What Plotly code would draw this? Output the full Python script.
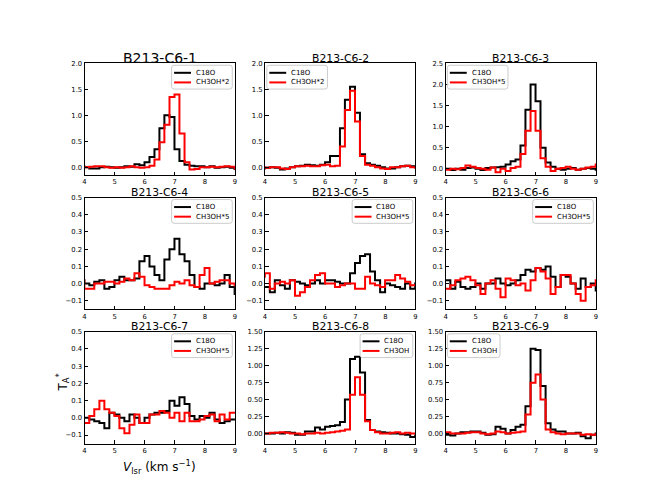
import plotly.graph_objects as go

# ---------------- data ----------------
vel = [3.91, 4.08, 4.24, 4.41, 4.58, 4.74, 4.91, 5.08, 5.24, 5.41, 5.58, 5.74,
       5.91, 6.08, 6.24, 6.41, 6.57, 6.74, 6.91, 7.07, 7.24, 7.41, 7.57, 7.74,
       7.91, 8.07, 8.24, 8.41, 8.57, 8.74, 8.91, 9.07]

titles = ["B213-C6-1", "B213-C6-2", "B213-C6-3", "B213-C6-4", "B213-C6-5",
          "B213-C6-6", "B213-C6-7", "B213-C6-8", "B213-C6-9"]
black_label = "C18O"
red_labels = ["CH3OH*2", "CH3OH*2", "CH3OH*5", "CH3OH*5", "CH3OH*5",
              "CH3OH*5", "CH3OH*5", "CH3OH", "CH3OH"]

c18o_1 = [0.02, 0.0, -0.02, -0.02, 0.0, 0.01, 0.0, -0.01, 0.0, 0.02, 0.01, 0.06,
          0.04, 0.1, 0.2, 0.35, 0.75, 1.0, 0.97, 0.35, 0.12, 0.05, 0.03, 0.02,
          0.02, 0.0, 0.02, -0.01, 0.0, 0.01, -0.01, -0.03]
ch3oh_1 = [0.0, 0.0, 0.01, 0.02, 0.02, 0.0, -0.01, 0.0, -0.01, 0.0, 0.02, 0.0,
           -0.01, 0.0, 0.03, 0.15, 0.48, 0.82, 1.35, 1.4, 0.65, 0.1, -0.04, -0.03,
           0.0, 0.0, 0.01, 0.0, 0.01, 0.02, 0.01, -0.02]

c18o_2 = [-0.02, -0.01, 0.0, -0.01, -0.04, -0.02, 0.0, 0.02, 0.03, 0.05, 0.04, 0.03,
          0.05, 0.1, 0.22, 0.22, 0.75, 1.3, 1.55, 1.05, 0.25, 0.08, 0.05, 0.03,
          0.0, -0.02, -0.02, 0.0, 0.02, 0.03, 0.02, 0.0]
ch3oh_2 = [0.0, -0.01, 0.0, 0.0, -0.02, -0.03, 0.0, 0.02, 0.02, 0.03, 0.02, 0.02,
           0.04, 0.05, 0.02, 0.03, 0.4, 1.1, 1.47, 0.88, 0.22, 0.05, 0.03, 0.0,
           -0.02, -0.03, 0.0, 0.0, 0.02, 0.03, 0.0, -0.01]

c18o_3 = [0.0, 0.0, -0.03, 0.0, -0.02, 0.02, 0.03, 0.0, -0.03, 0.02, 0.03, 0.04,
          0.05, 0.1, 0.18, 0.22, 0.55, 1.4, 2.0, 1.6, 0.5, 0.15, 0.05, 0.0,
          -0.02, 0.0, 0.02, -0.02, 0.0, 0.02, 0.0, -0.02]
ch3oh_3 = [0.0, -0.02, 0.0, -0.01, 0.02, 0.08, 0.05, 0.02, 0.0, -0.02, 0.03, -0.08,
           0.0, -0.05, 0.02, 0.05, 0.35, 0.9, 1.37, 0.9, 0.25, 0.05, -0.05, 0.0,
           0.02, 0.05, 0.0, -0.02, 0.0, 0.03, 0.05, 0.1]

c18o_4 = [0.02, 0.0, -0.01, 0.01, 0.02, -0.03, -0.02, 0.02, 0.04, 0.02, 0.02, 0.03,
          0.13, 0.16, 0.1, 0.05, 0.02, 0.14, 0.2, 0.26, 0.17, 0.13, 0.05, -0.02,
          -0.03, 0.0, 0.0, -0.01, 0.0, 0.05, -0.02, -0.06]
ch3oh_4 = [0.02, -0.03, -0.03, 0.0, 0.0, 0.01, 0.01, 0.0, 0.01, 0.03, 0.02, 0.06,
           0.04, -0.01, -0.02, -0.03, -0.03, -0.03, -0.01, 0.01, 0.0, 0.02, -0.01, -0.02,
           0.05, 0.09, 0.0, 0.01, 0.02, 0.02, 0.0, -0.01]

c18o_5 = [-0.02, -0.02, -0.05, 0.02, -0.01, -0.03, 0.02, 0.01, 0.0, -0.01, 0.0, 0.02,
          0.0, 0.02, 0.02, 0.01, 0.0, 0.0, 0.06, 0.12, 0.16, 0.17, 0.07, 0.02,
          -0.05, 0.0, -0.01, -0.02, -0.03, 0.0, -0.03, 0.0]
ch3oh_5 = [0.04, 0.06, -0.03, 0.0, 0.01, 0.0, 0.02, -0.07, -0.05, -0.02, 0.02, 0.05,
           0.06, 0.0, 0.0, -0.02, -0.01, 0.0, 0.0, -0.03, -0.03, 0.04, 0.0, -0.01,
           -0.02, 0.02, 0.02, 0.05, 0.03, 0.01, -0.01, -0.01]

c18o_6 = [0.02, 0.02, -0.03, 0.01, -0.02, -0.03, -0.02, 0.0, -0.03, 0.0, 0.0, 0.03,
          0.0, -0.01, 0.0, 0.02, 0.05, 0.08, 0.07, 0.09, 0.08, 0.1, 0.04, -0.02,
          0.05, 0.04, 0.0, -0.03, 0.03, -0.02, 0.0, -0.04]
ch3oh_6 = [-0.03, -0.03, -0.01, 0.02, 0.03, 0.04, 0.02, -0.01, -0.06, 0.0, 0.02, -0.03,
           -0.08, 0.03, 0.02, -0.01, 0.0, -0.04, 0.02, 0.09, 0.07, 0.03, -0.06, -0.02,
           0.05, 0.05, 0.0, -0.06, -0.1, -0.02, -0.01, 0.02]

c18o_7 = [0.0, 0.0, -0.01, -0.02, -0.03, -0.06, 0.03, 0.02, 0.0, -0.02, 0.02, 0.0,
          -0.03, 0.0, 0.02, 0.03, 0.03, 0.04, 0.1, 0.07, 0.12, 0.08, 0.01, -0.01,
          0.01, 0.0, 0.03, -0.01, -0.03, -0.02, -0.01, -0.01]
ch3oh_7 = [-0.03, -0.03, 0.01, 0.05, 0.1, 0.05, 0.03, 0.01, -0.06, -0.09, -0.04, 0.02,
           -0.03, -0.03, 0.02, 0.02, 0.04, 0.03, 0.0, 0.03, -0.02, 0.03, -0.02, -0.02,
           -0.01, 0.01, 0.02, -0.02, 0.02, -0.01, 0.03, 0.03]

c18o_8 = [0.0, 0.0, 0.0, 0.01, 0.0, 0.02, 0.01, -0.02, -0.02, 0.03, 0.03, 0.09,
          0.06, 0.1, 0.11, 0.12, 0.17, 0.5, 1.1, 1.13, 0.9, 0.2, 0.05, 0.03,
          0.02, 0.01, 0.0, 0.0, -0.01, -0.02, -0.05, -0.03]
ch3oh_8 = [0.0, 0.0, 0.01, 0.01, 0.02, 0.01, 0.0, 0.0, -0.01, 0.0, 0.0, 0.01,
           0.0, 0.01, 0.02, 0.03, 0.04, 0.06, 0.57, 0.83, 0.57, 0.18, 0.05, 0.02,
           0.0, 0.0, 0.01, 0.02, 0.0, 0.01, 0.0, 0.0]

c18o_9 = [-0.02, -0.02, -0.03, 0.0, 0.02, 0.02, 0.03, 0.03, 0.01, -0.02, -0.01, 0.1,
          0.07, 0.0, 0.05, 0.1, 0.13, 0.4, 1.25, 1.23, 0.7, 0.15, 0.06, 0.03,
          0.03, 0.0, 0.0, 0.01, -0.04, -0.07, -0.02, 0.0]
ch3oh_9 = [0.02, 0.02, 0.0, 0.0, 0.0, 0.01, 0.02, 0.02, 0.0, -0.01, 0.0, 0.03,
           0.02, 0.0, 0.01, 0.02, 0.03, 0.28, 0.75, 0.87, 0.5, 0.06, 0.02, 0.0,
           -0.01, 0.0, 0.0, 0.0, -0.02, -0.01, -0.02, -0.01]

c18o_all = [c18o_1, c18o_2, c18o_3, c18o_4, c18o_5, c18o_6, c18o_7, c18o_8, c18o_9]
ch3oh_all = [ch3oh_1, ch3oh_2, ch3oh_3, ch3oh_4, ch3oh_5, ch3oh_6, ch3oh_7, ch3oh_8, ch3oh_9]

y_tops = [2.0, 2.0, 2.5, 0.5, 0.5, 0.5, 0.5, 1.5, 1.5]
y_dticks = [0.5, 0.5, 0.5, 0.1, 0.1, 0.1, 0.1, 0.25, 0.25]
y_formats = [".1f", ".1f", ".1f", ".1f", ".1f", ".1f", ".1f", ".2f", ".2f"]
legend_side = ["right", "left", "left", "right", "right", "right", "right", "right", "left"]

# ---------------- layout geometry (matplotlib default subplot grid) ----------------
W, H = 664, 498
left, right, bottom, top = 0.125, 0.9, 0.11, 0.88
pw = (right - left) / 3.4
gw = pw * 0.2
ph = (top - bottom) / 3.4
gh = ph * 0.2
col_dom = [[left + c * (pw + gw), left + c * (pw + gw) + pw] for c in range(3)]
row_dom = [[top - r * (ph + gh) - ph, top - r * (ph + gh)] for r in range(3)]

FONT = "DejaVu Sans"
LEG_FONT = 7
TICK_FONT = 6.8
legend_box_w = {"CH3OH*2": 61, "CH3OH*5": 61, "CH3OH": 53}


def px(xp):
    return xp / W


def py(yp):
    return 1 - yp / H


def rounded_rect(x0, y0, x1, y1, rad):
    # pixel coords (y down) -> paper path
    pts = [f"M{px(x0 + rad)},{py(y0)}",
           f"L{px(x1 - rad)},{py(y0)}",
           f"Q{px(x1)},{py(y0)} {px(x1)},{py(y0 + rad)}",
           f"L{px(x1)},{py(y1 - rad)}",
           f"Q{px(x1)},{py(y1)} {px(x1 - rad)},{py(y1)}",
           f"L{px(x0 + rad)},{py(y1)}",
           f"Q{px(x0)},{py(y1)} {px(x0)},{py(y1 - rad)}",
           f"L{px(x0)},{py(y0 + rad)}",
           f"Q{px(x0)},{py(y0)} {px(x0 + rad)},{py(y0)}"]
    return " ".join(pts) + " Z"


fig = go.Figure()
annotations = []
shapes = []
for i in range(9):
    r, c = divmod(i, 3)
    n = "" if i == 0 else str(i + 1)
    xa, ya = "x" + n, "y" + n
    fig.add_trace(go.Scatter(x=vel, y=c18o_all[i], mode="lines",
                             line=dict(color="black", width=2, shape="hvh"),
                             name=black_label, xaxis=xa, yaxis=ya, showlegend=False))
    fig.add_trace(go.Scatter(x=vel, y=ch3oh_all[i], mode="lines",
                             line=dict(color="red", width=2, shape="hvh"),
                             name=red_labels[i], xaxis=xa, yaxis=ya, showlegend=False))
    axis_common = dict(showline=True, mirror=True, linecolor="black", linewidth=1, ticks="inside",
                       ticklen=3.5, tickwidth=1, tickcolor="black", showgrid=False, zeroline=False,
                       tickfont=dict(family=FONT, size=TICK_FONT, color="black"))
    fig.update_layout(**{
        ("xaxis" + n): dict(domain=col_dom[c], range=[4, 9], tick0=4, dtick=1, anchor=ya, **axis_common),
        ("yaxis" + n): dict(domain=row_dom[r], range=[-0.15, y_tops[i]], tick0=0, dtick=y_dticks[i],
                            tickformat=y_formats[i], anchor=xa, **axis_common),
    })

    # legend (matplotlib-style box) in pixel space
    ax_x0, ax_x1 = col_dom[c][0] * W, col_dom[c][1] * W
    ax_top = (1 - row_dom[r][1]) * H
    bw = legend_box_w[red_labels[i]]
    bh = 24
    if legend_side[i] == "right":
        bx1 = ax_x1 - 2.7
        bx0 = bx1 - bw
    else:
        bx0 = ax_x0 + 1.8
        bx1 = bx0 + bw
    by0 = ax_top + 2.0
    by1 = by0 + bh
    shapes.append(dict(type="path", xref="paper", yref="paper", path=rounded_rect(bx0, by0, bx1, by1, 2.5),
                       line=dict(color="#cccccc", width=1), fillcolor="rgba(255,255,255,0.85)", layer="above"))
    for k, (lab, col) in enumerate([(black_label, "black"), (red_labels[i], "red")]):
        ly = by0 + 7.6 + k * 9.7
        shapes.append(dict(type="line", xref="paper", yref="paper", x0=px(bx0 + 2.5), x1=px(bx0 + 19.5),
                           y0=py(ly), y1=py(ly), line=dict(color=col, width=2), layer="above"))
        annotations.append(dict(text=lab, xref="paper", yref="paper", x=px(bx0 + 23.3), y=py(ly),
                                xanchor="left", yanchor="middle", showarrow=False, borderpad=0,
                                font=dict(family=FONT, size=LEG_FONT, color="black")))

    annotations.append(dict(text=titles[i], xref=xa + " domain", yref=ya + " domain", x=0.5, y=1.0,
                            xanchor="center", yanchor="bottom", yshift=-3.5 if i == 0 else -2.5,
                            showarrow=False, borderpad=0,
                            font=dict(family=FONT, size=14 if i == 0 else 10.8, color="black")))

annotations.append(dict(text="<i>V</i><sub>lsr</sub> (km s<sup>−1</sup>)", xref="paper", yref="paper",
                        x=(col_dom[0][0] + col_dom[0][1]) / 2, y=py(467), xanchor="center",
                        yanchor="middle", showarrow=False, font=dict(family=FONT, size=12, color="black")))
annotations.append(dict(text="T<sub>A</sub><sup>*</sup>", xref="paper", yref="paper", x=px(61),
                        y=py(382), xanchor="center", yanchor="middle", textangle=-90,
                        showarrow=False, font=dict(family=FONT, size=12, color="black")))

fig.update_layout(width=W, height=H, margin=dict(l=0, r=0, t=0, b=0), paper_bgcolor="white",
                  plot_bgcolor="white", annotations=annotations, shapes=shapes, font=dict(family=FONT),
                  showlegend=False)
# the page's default 8px body margin would shift the whole figure; remove it
fig.write_html("out.html", config={"displayModeBar": False},
               post_script="document.body.style.margin='0px';")
